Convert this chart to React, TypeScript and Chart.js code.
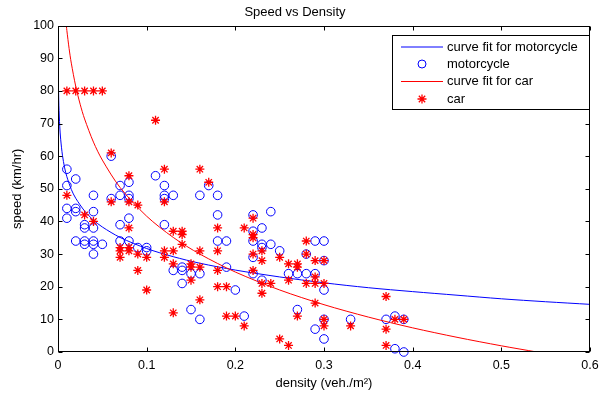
import { useEffect, useRef } from 'react';
import { Chart, registerables } from 'chart.js';

Chart.register(...registerables);

const FONT = '"Liberation Sans", Arial, Helvetica, sans-serif';

const chartTitle = 'Speed vs Density';
const xAxisTitle = 'density (veh./m\u00B2)';
const yAxisTitle = 'speed (km/hr)';
const legendLabels = ['curve fit for motorcycle', 'motorcycle', 'curve fit for car', 'car'];

const xTickValues = [0, 0.1, 0.2, 0.3, 0.4, 0.5, 0.6];
const yTickValues = [0, 10, 20, 30, 40, 50, 60, 70, 80, 90, 100];

const motoDensity = [
  0.01, 0.01, 0.01, 0.01,
  0.02, 0.02, 0.02, 0.02,
  0.03, 0.03, 0.03, 0.03,
  0.04, 0.04, 0.04, 0.04, 0.04, 0.04,
  0.05,
  0.06, 0.06,
  0.07, 0.07, 0.07, 0.07,
  0.08, 0.08, 0.08, 0.08, 0.08,
  0.09,
  0.10, 0.10,
  0.11,
  0.12, 0.12, 0.12, 0.12,
  0.13, 0.13,
  0.14, 0.14, 0.14,
  0.15, 0.15,
  0.16, 0.16, 0.16,
  0.17,
  0.18, 0.18, 0.18,
  0.19, 0.19,
  0.20,
  0.21,
  0.22, 0.22, 0.22, 0.22, 0.22,
  0.23, 0.23, 0.23, 0.23,
  0.24, 0.24,
  0.25,
  0.26,
  0.27, 0.27,
  0.28, 0.28,
  0.29, 0.29, 0.29,
  0.30, 0.30, 0.30, 0.30, 0.30,
  0.33,
  0.37,
  0.38, 0.38,
  0.39, 0.39,
];
const motoSpeed = [
  56, 51, 44, 41,
  53, 44, 43, 34,
  39, 38, 34, 33,
  48, 43, 38, 34, 33, 30,
  33,
  60, 47,
  51, 48, 39, 34,
  52, 48, 47, 41, 34,
  32,
  32, 31,
  54,
  51, 48, 47, 39,
  48, 25,
  26, 25, 21,
  24, 13,
  48, 24, 10,
  51,
  48, 42, 34,
  34, 26,
  19,
  11,
  42, 37, 34, 29, 24,
  38, 33, 32, 22,
  43, 33,
  31,
  24,
  24, 13,
  30, 24,
  34, 24, 7,
  34, 28, 19, 10, 4,
  10,
  10,
  11, 1,
  10, 0,
];

const carDensity = [
  0.01, 0.01,
  0.02,
  0.03, 0.03,
  0.04, 0.04,
  0.05,
  0.06, 0.06,
  0.07, 0.07, 0.07,
  0.08, 0.08, 0.08, 0.08, 0.08,
  0.09, 0.09, 0.09,
  0.10, 0.10,
  0.11,
  0.12, 0.12, 0.12, 0.12,
  0.13, 0.13, 0.13, 0.13,
  0.14, 0.14, 0.14,
  0.15, 0.15, 0.15,
  0.16, 0.16, 0.16, 0.16,
  0.17,
  0.18, 0.18, 0.18, 0.18,
  0.19, 0.19,
  0.20,
  0.21, 0.21,
  0.22, 0.22, 0.22, 0.22, 0.22,
  0.23, 0.23, 0.23, 0.23,
  0.24,
  0.25, 0.25,
  0.26, 0.26, 0.26,
  0.27, 0.27, 0.27,
  0.28, 0.28, 0.28,
  0.29, 0.29, 0.29, 0.29,
  0.30, 0.30, 0.30, 0.30,
  0.33,
  0.37, 0.37, 0.37,
  0.38,
  0.39,
];
const carSpeed = [
  80, 48,
  80,
  80, 42,
  80, 40,
  80,
  61, 46,
  32, 31, 29,
  54, 46, 38, 32, 31,
  45, 30, 25,
  29, 19,
  71,
  56, 46, 31, 29,
  37, 31, 27, 12,
  37, 36, 33,
  27, 26, 22,
  56, 31, 26, 16,
  52,
  38, 31, 25, 20,
  20, 11,
  11,
  38, 8,
  41, 36, 35, 30, 25,
  31, 28, 21, 18,
  21,
  29, 4,
  27, 22, 2,
  27, 26, 11,
  34, 30, 21,
  28, 23, 21, 15,
  28, 21, 10, 8,
  8,
  17, 7, 2,
  10,
  10,
];

const motoFitDensity = [0.00025, 0.0005, 0.001, 0.002, 0.003, 0.005, 0.0075, 0.01, 0.015, 0.02, 0.03, 0.04, 0.05, 0.07, 0.1, 0.13, 0.16, 0.2, 0.25, 0.3, 0.35, 0.4, 0.45, 0.5, 0.55, 0.6];
const motoFitSpeed = [88.9, 82.2, 75.6, 69.0, 65.2, 60.3, 56.4, 53.7, 49.8, 47.1, 43.2, 40.4, 38.3, 35.1, 31.7, 29.2, 27.2, 25.1, 23.0, 21.2, 19.7, 18.5, 17.4, 16.3, 15.4, 14.6];

const carFitDensity = [0.0095, 0.01, 0.0125, 0.015, 0.02, 0.025, 0.03, 0.04, 0.05, 0.07, 0.1, 0.13, 0.16, 0.2, 0.25, 0.3, 0.35, 0.4, 0.45, 0.5, 0.54];
const carFitSpeed = [99.8, 98.5, 93.0, 88.5, 81.4, 75.9, 71.4, 64.3, 58.8, 50.4, 41.6, 35.1, 30.0, 24.5, 19.0, 14.5, 10.7, 7.4, 4.5, 1.9, 0.0];

const BLUE = '#0000ff';
const RED = '#ff0000';

const zip = (xs: number[], ys: number[]) => xs.map((x, i) => ({ x, y: ys[i] }));

function drawStar(ctx: CanvasRenderingContext2D, x: number, y: number, r: number) {
  ctx.beginPath();
  ctx.moveTo(x - r, y); ctx.lineTo(x + r, y);
  ctx.moveTo(x, y - r); ctx.lineTo(x, y + r);
  const d = r * Math.SQRT1_2;
  ctx.moveTo(x - d, y - d); ctx.lineTo(x + d, y + d);
  ctx.moveTo(x - d, y + d); ctx.lineTo(x + d, y - d);
  ctx.stroke();
}

const framePlugin = {
  id: 'matlabFrame',
  afterDatasetsDraw(chart: any) {
    const { ctx, chartArea: a, scales } = chart;
    const L = Math.round(a.left) + 0.5;
    const R = Math.round(a.right) - 0.5;
    const T = Math.round(a.top) + 0.5;
    const B = Math.round(a.bottom) - 0.5;
    ctx.save();
    ctx.strokeStyle = '#000';
    ctx.lineWidth = 1;
    ctx.strokeRect(L, T, R - L, B - T);
    const tl = 4;
    ctx.beginPath();
    xTickValues.forEach((v) => {
      const px = Math.round(scales.x.getPixelForValue(v)) + 0.5;
      ctx.moveTo(px, B); ctx.lineTo(px, B - tl);
      ctx.moveTo(px, T); ctx.lineTo(px, T + tl);
    });
    yTickValues.forEach((v) => {
      const py = Math.round(scales.y.getPixelForValue(v)) + 0.5;
      ctx.moveTo(L, py); ctx.lineTo(L + tl, py);
      ctx.moveTo(R, py); ctx.lineTo(R - tl, py);
    });
    ctx.stroke();
    ctx.restore();
  },
  afterDraw(chart: any) {
    const { ctx, chartArea: a } = chart;
    const right = Math.round(a.right) - 0.5;
    const left = 392.5;
    const top = 35.5;
    const bottom = 109.5;
    ctx.save();
    ctx.fillStyle = '#fff';
    ctx.fillRect(left, top, right - left, bottom - top);
    ctx.strokeStyle = '#000';
    ctx.lineWidth = 1;
    ctx.strokeRect(left, top, right - left, bottom - top);
    const rows = [47, 64, 81.5, 99];
    const x0 = 401, x1 = 443, xm = 422;
    ctx.lineWidth = 1;
    ctx.strokeStyle = BLUE;
    ctx.beginPath(); ctx.moveTo(x0, rows[0]); ctx.lineTo(x1, rows[0]); ctx.stroke();
    ctx.beginPath(); ctx.arc(xm, rows[1], 4, 0, Math.PI * 2); ctx.stroke();
    ctx.strokeStyle = RED;
    ctx.beginPath(); ctx.moveTo(x0, rows[2]); ctx.lineTo(x1, rows[2]); ctx.stroke();
    ctx.lineWidth = 1.3;
    drawStar(ctx, xm, rows[3], 4.5);
    ctx.fillStyle = '#000';
    ctx.font = `13px ${FONT}`;
    ctx.textAlign = 'left';
    ctx.textBaseline = 'middle';
    legendLabels.forEach((t, i) => ctx.fillText(t, 447, rows[i]));
    ctx.restore();
  },
};

export default function App() {
  const ref = useRef<HTMLCanvasElement | null>(null);
  useEffect(() => {
    document.body.style.margin = '0';
    const canvas = ref.current;
    if (!canvas) return;
    const tickFont = { family: FONT, size: 12.5 };
    const chart = new Chart(canvas, {
      type: 'scatter',
      data: {
        datasets: [
          {
            label: 'car',
            data: zip(carDensity, carSpeed),
            pointStyle: 'star',
            pointRadius: 4.5,
            borderColor: RED,
            backgroundColor: RED,
            borderWidth: 1.3,
            showLine: false,
            clip: false,
            order: 0,
          } as any,
          {
            label: 'curve fit for car',
            data: zip(carFitDensity, carFitSpeed),
            showLine: true,
            pointRadius: 0,
            borderColor: RED,
            borderWidth: 1,
            tension: 0.3,
            order: 1,
          },
          {
            label: 'motorcycle',
            data: zip(motoDensity, motoSpeed),
            pointStyle: 'circle',
            pointRadius: 4.3,
            borderColor: BLUE,
            backgroundColor: 'rgba(0,0,0,0)',
            borderWidth: 1,
            showLine: false,
            clip: false,
            order: 2,
          } as any,
          {
            label: 'curve fit for motorcycle',
            data: zip(motoFitDensity, motoFitSpeed),
            showLine: true,
            pointRadius: 0,
            borderColor: BLUE,
            borderWidth: 1,
            tension: 0.3,
            order: 3,
          },
        ],
      },
      options: {
        animation: false,
        responsive: false,
        events: [],
        layout: { padding: { left: 0, right: 9, top: 0, bottom: 0 } },
        plugins: {
          legend: { display: false },
          tooltip: { enabled: false },
          title: {
            display: true,
            text: chartTitle,
            color: '#000',
            font: { family: FONT, size: 13, weight: 'normal' },
            padding: { top: 5, bottom: 5 },
          },
        },
        scales: {
          x: {
            type: 'linear',
            min: 0,
            max: 0.6,
            grid: { display: false, drawTicks: false },
            border: { display: false },
            ticks: {
              stepSize: 0.1,
              padding: 6,
              color: '#000',
              font: tickFont,
              maxRotation: 0,
              callback: (v: any) => (Number(v) === 0 ? '0' : Number(v).toFixed(1)),
            },
            title: {
              display: true,
              text: xAxisTitle,
              color: '#000',
              font: { family: FONT, size: 13 },
              padding: { top: 0, bottom: 3 },
            },
            afterFit: (s: any) => {
              s.height = 42;
              s.paddingLeft = 0;
              s.paddingRight = 0;
            },
          },
          y: {
            type: 'linear',
            min: 0,
            max: 100,
            grid: { display: false, drawTicks: false },
            border: { display: false },
            ticks: {
              stepSize: 10,
              padding: 4,
              color: '#000',
              font: tickFont,
            },
            title: {
              display: true,
              text: yAxisTitle,
              color: '#000',
              font: { family: FONT, size: 13 },
              padding: { top: 10, bottom: 0 },
            },
            afterFit: (s: any) => {
              s.width = 58;
              s.paddingTop = 0;
              s.paddingBottom = 0;
            },
          },
        },
      },
      plugins: [framePlugin],
    });
    return () => chart.destroy();
  }, []);
  return (
    <div style={{ width: 599, height: 394, background: '#fff' }}>
      <canvas ref={ref} width={599} height={394} style={{ display: 'block' }} />
    </div>
  );
}
